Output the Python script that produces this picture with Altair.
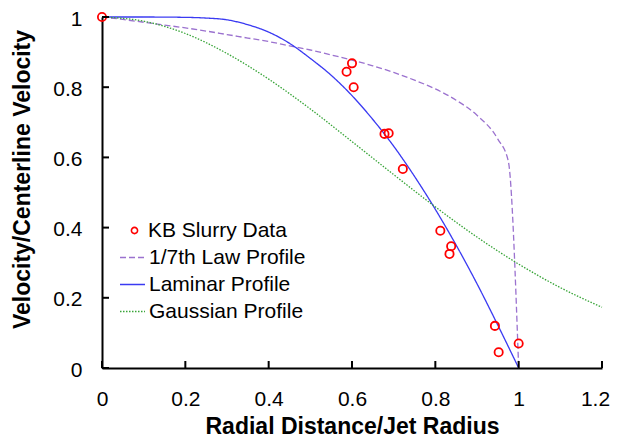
import altair as alt
import pandas as pd

# ---- data ----
point_series = ["KB Slurry Data"]
line_series = ["1/7th Law Profile", "Laminar Profile", "Gaussian Profile"]
line_colors = ["#9b72cf", "#3a3af2", "#39a539"]
line_dashes = [[6, 3], [1, 0], [1.5, 1.5]]
point_color = "#ff0000"

kb_r = [0.0, 0.600, 0.587, 0.604, 0.678, 0.688, 0.722, 0.812, 0.838, 0.834, 0.943, 0.952, 1.0]
kb_v = [1.0, 0.868, 0.844, 0.800, 0.667, 0.669, 0.567, 0.391, 0.347, 0.325, 0.120, 0.045, 0.070]

law_r = [0.0, 0.05, 0.1, 0.15, 0.2, 0.25, 0.3, 0.35, 0.4, 0.45, 0.5, 0.55, 0.6, 0.65,
         0.7, 0.75, 0.8, 0.85, 0.9, 0.95, 0.975, 1.0]
law_v = [1.0, 0.993, 0.985, 0.977, 0.969, 0.960, 0.950, 0.940, 0.930, 0.918, 0.906, 0.892,
         0.877, 0.861, 0.842, 0.820, 0.795, 0.763, 0.720, 0.652, 0.590, 0.0]

lam_r = [0.0, 0.1, 0.2, 0.25, 0.3, 0.35, 0.4, 0.45, 0.5, 0.55, 0.6, 0.65, 0.7, 0.75,
         0.8, 0.85, 0.9, 0.95, 1.0]
lam_v = [1.0, 1.0, 0.999, 0.997, 0.992, 0.978, 0.957, 0.925, 0.882, 0.834, 0.776, 0.708,
         0.632, 0.546, 0.452, 0.350, 0.240, 0.122, 0.0]

gau_r = [0.0, 0.1, 0.2, 0.3, 0.4, 0.5, 0.6, 0.7, 0.8, 0.9, 1.0, 1.1, 1.2]
gau_v = [1.0, 0.988, 0.953, 0.896, 0.823, 0.738, 0.645, 0.551, 0.459, 0.373, 0.296, 0.229, 0.173]

x_ticks = [0, 0.2, 0.4, 0.6, 0.8, 1.0, 1.2]
y_ticks = [0, 0.2, 0.4, 0.6, 0.8, 1.0]

# ---- tables ----
pts = pd.DataFrame({"r": kb_r, "v": kb_v, "series": point_series[0]})
lines = pd.concat([
    pd.DataFrame({"r": law_r, "v": law_v, "series": line_series[0]}),
    pd.DataFrame({"r": lam_r, "v": lam_v, "series": line_series[1]}),
    pd.DataFrame({"r": gau_r, "v": gau_v, "series": line_series[2]}),
])
xt = pd.DataFrame({"r": x_ticks})
yt = pd.DataFrame({"v": y_ticks})

FONT = "Liberation Sans"

xscale = alt.Scale(domain=[0, 1.2], nice=False)
yscale = alt.Scale(domain=[0, 1], nice=False)

line_legend = alt.Legend(
    title=None, orient="none", legendX=17, legendY=227, padding=0,
    symbolType="stroke", symbolSize=625, symbolStrokeWidth=1.3,
    labelFont=FONT, labelFontSize=21, labelColor="#000", labelOffset=3,
    rowPadding=3,
)
point_legend = alt.Legend(
    title=None, orient="none", legendX=22, legendY=203, padding=0,
    symbolType="circle", symbolSize=38, symbolStrokeWidth=1.6,
    symbolStrokeColor=point_color, symbolFillColor="transparent",
    labelFont=FONT, labelFontSize=21, labelColor="#000", labelOffset=3,
)

xaxis = alt.Axis(values=x_ticks, format="~g", title="Radial Distance/Jet Radius",
                 ticks=False, tickSize=0, grid=False, domainColor="#000", domainWidth=2,
                 labelFont=FONT, labelFontSize=21, labelColor="#000", labelPadding=20,
                 labelFlush=False, labelOverlap=False,
                 labelOffset={"expr": "datum.value > 1.1 ? -7 : 0"},
                 titleFont=FONT, titleFontSize=23, titleFontWeight="bold", titleColor="#000",
                 titleBaseline="alphabetic", titleY=65)
yaxis = alt.Axis(values=y_ticks, format="~g", title="Velocity/Centerline Velocity",
                 ticks=False, tickSize=0, grid=False, domainColor="#000", domainWidth=2,
                 labelFont=FONT, labelFontSize=21, labelColor="#000", labelPadding=20,
                 labelFlush=False, labelOverlap=False, labelOffset=2,
                 titleFont=FONT, titleFontSize=23, titleFontWeight="bold", titleColor="#000",
                 titleAngle=270, titleAlign="center", titleBaseline="alphabetic",
                 titleX=-73, titleY=162)

X = alt.X("r:Q", scale=xscale, axis=xaxis)
Y = alt.Y("v:Q", scale=yscale, axis=yaxis)

line_layer = alt.Chart(lines).mark_line(strokeWidth=1.3, interpolate="monotone").encode(
    x=X, y=Y,
    color=alt.Color("series:N", scale=alt.Scale(domain=line_series, range=line_colors),
                    legend=line_legend),
    strokeDash=alt.StrokeDash("series:N", scale=alt.Scale(domain=line_series, range=line_dashes),
                              legend=line_legend),
    order="r:Q",
)

point_layer = alt.Chart(pts).mark_point(filled=False, size=68, strokeWidth=1.8, opacity=1,
                                        color=point_color).encode(
    x=X, y=Y,
    shape=alt.Shape("series:N", scale=alt.Scale(domain=point_series, range=["circle"]),
                    legend=point_legend),
)

xtick_layer = alt.Chart(xt).mark_rule(color="#000", strokeWidth=2).encode(
    x=X, y=alt.value(351), y2=alt.value(344),
)
ytick_layer = alt.Chart(yt).mark_rule(color="#000", strokeWidth=2).encode(
    y=Y, x=alt.value(0), x2=alt.value(7),
)

chart = alt.layer(line_layer, point_layer, xtick_layer, ytick_layer).properties(
    width=500, height=351,
    autosize=alt.AutoSizeParams(type="none"),
    padding={"left": 94, "top": 9, "right": 8, "bottom": 70},
    background="white",
).configure_view(stroke=None)

chart.save("out.html", embed_options={"renderer": "svg", "actions": False})
